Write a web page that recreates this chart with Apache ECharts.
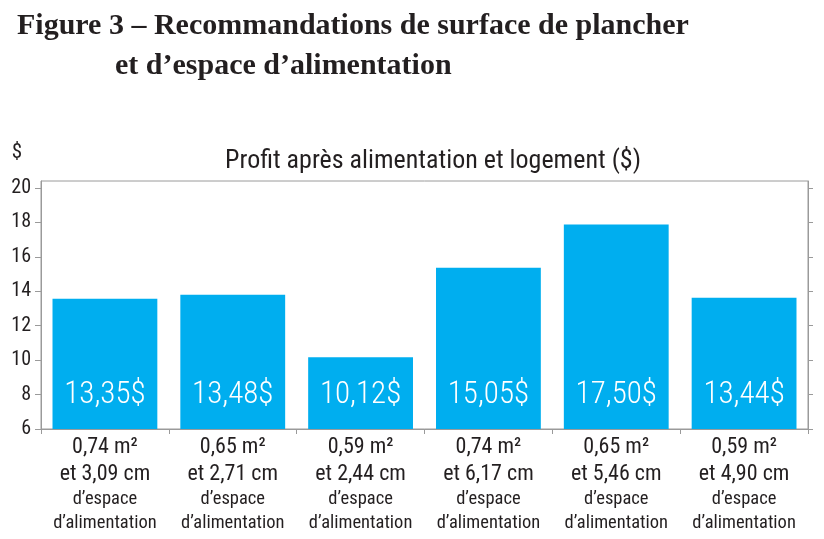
<!DOCTYPE html>
<html>
<head>
<meta charset="utf-8">
<script src="https://cdn.jsdelivr.net/npm/echarts@6/dist/echarts.min.js"></script>
<style>
html,body{margin:0;padding:0;background:#fff;}
#c{width:824px;height:539px;}
</style>
</head>
<body>
<div id="c"></div>
<script>
// Data
const floorArea = ['0,74', '0,65', '0,59', '0,74', '0,65', '0,59'];
const feedSpace = ['3,09', '2,71', '2,44', '6,17', '5,46', '4,90'];
const profitValues = [13.56, 13.79, 10.17, 15.37, 17.87, 13.62];
const profitLabels = ['13,35$', '13,48$', '10,12$', '15,05$', '17,50$', '13,44$'];
const yTicks = [6, 8, 10, 12, 14, 16, 18, 20];

const categories = floorArea.map((a, i) => a + '|' + feedSpace[i]);
const narrow = '"Liberation Sans Narrow", "Roboto Condensed", "Arial Narrow", "Liberation Sans", sans-serif';
const txt = '#231f20';
const axisCol = '#9a9a9a';

const chart = echarts.init(document.getElementById('c'), null, {renderer: 'canvas'});
chart.setOption({
  animation: false,
  backgroundColor: '#fff',
  title: [
    {
      text: 'Figure 3 – Recommandations de surface de plancher',
      left: 12, top: 6,
      textStyle: {fontFamily: '"Liberation Serif", "DejaVu Serif", serif', fontWeight: 'bold', fontSize: 30, color: txt}
    },
    {
      text: 'et d’espace d’alimentation',
      left: 110, top: 46,
      textStyle: {fontFamily: '"Liberation Serif", "DejaVu Serif", serif', fontWeight: 'bold', fontSize: 30, color: txt}
    },
    {
      text: 'Profit après alimentation et logement ($)',
      left: 428, top: 143, textAlign: 'center',
      textStyle: {fontFamily: narrow, fontWeight: 'normal', fontSize: 26, color: txt}
    }
  ],
  grid: {
    left: 41, right: 16, top: 181, bottom: 110,
    show: true, borderColor: axisCol, borderWidth: 1, backgroundColor: 'transparent'
  },
  xAxis: {
    type: 'category',
    data: categories,
    axisLine: {lineStyle: {color: axisCol, width: 1}},
    axisTick: {show: true, length: 5, lineStyle: {color: axisCol}},
    axisLabel: {
      interval: 0, margin: 5,
      formatter: function (v) {
        const p = v.split('|');
        return '{a|' + p[0] + ' m²}\n{a2|et ' + p[1] + ' cm}\n{b|d’espace}\n{b|d’alimentation}';
      },
      rich: {
        a: {fontFamily: narrow, fontSize: 22, lineHeight: 27, color: txt},
        a2: {fontFamily: narrow, fontSize: 22, lineHeight: 26, color: txt},
        b: {fontFamily: narrow, fontSize: 18.5, lineHeight: 24, color: txt}
      }
    }
  },
  yAxis: [
    {
      type: 'value', min: 6, max: 20.4, interval: 2,
      name: '$', nameLocation: 'end', nameGap: 18,
      nameTextStyle: {fontFamily: narrow, fontSize: 21, color: txt, align: 'right', padding: [0, 19, 0, 0]},
      splitLine: {show: false},
      axisLine: {show: true, lineStyle: {color: axisCol}},
      axisTick: {show: true, length: 6, lineStyle: {color: axisCol}, customValues: yTicks},
      axisLabel: {
        margin: 10, fontFamily: narrow, fontSize: 20, color: txt, customValues: yTicks,
        formatter: function (v) { return yTicks.indexOf(v) >= 0 ? String(v) : ''; }
      }
    },
    {
      type: 'value', min: 6, max: 20.4, interval: 2, position: 'right',
      splitLine: {show: false},
      axisLine: {show: true, lineStyle: {color: axisCol}},
      axisTick: {show: true, length: 5, lineStyle: {color: axisCol}, customValues: yTicks},
      axisLabel: {show: false}
    }
  ],
  series: [{
    type: 'bar',
    data: profitValues,
    barWidth: '82%',
    itemStyle: {color: '#00aeef'},
    label: {
      show: true, position: 'insideBottom', distance: 18,
      fontFamily: narrow, fontSize: 31, fontWeight: 300, color: '#fff',
      formatter: function (p) { return profitLabels[p.dataIndex]; }
    }
  }]
});
</script>
</body>
</html>
